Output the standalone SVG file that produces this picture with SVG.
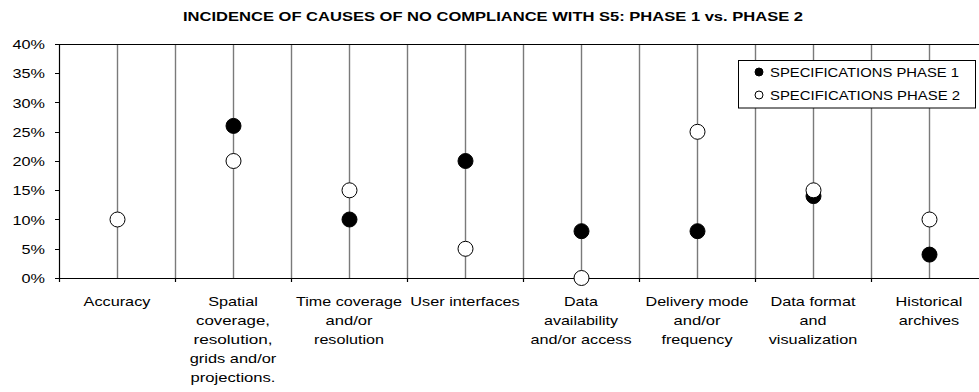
<svg xmlns="http://www.w3.org/2000/svg" width="979" height="392" viewBox="0 0 979 392">
  <style>
    text { font-family: "Liberation Sans", Arial, Helvetica, sans-serif; fill: #000; }
    .title { font-size: 13.5px; font-weight: bold; text-anchor: middle; }
    .ytick { font-size: 13.5px; text-anchor: end; }
    .cat { font-size: 13.5px; text-anchor: middle; }
    .leg { font-size: 13px; }
    .grid { stroke: #7a7a7a; stroke-width: 1.4; fill: none; }
    .axis { stroke: #000; stroke-width: 1.2; fill: none; }
    .p1 { fill: #000; stroke: #000; stroke-width: 1; }
    .p2 { fill: #fff; stroke: #000; stroke-width: 1; }
  </style>

  <rect x="0" y="0" width="979" height="392" fill="#fff"/>

  <!-- chart title -->
  <text class="title" x="493" y="21" textLength="620" lengthAdjust="spacingAndGlyphs">INCIDENCE OF CAUSES OF NO COMPLIANCE WITH S5: PHASE 1 vs. PHASE 2</text>

  <!-- plot frame, category dividers and category centre lines -->
  <g id="connectors">
    <g class="grid">
      <line x1="117.5" y1="44" x2="117.5" y2="278"/>
      <line x1="175.5" y1="44" x2="175.5" y2="278"/>
      <line x1="233.5" y1="44" x2="233.5" y2="278"/>
      <line x1="291.5" y1="44" x2="291.5" y2="278"/>
      <line x1="349.5" y1="44" x2="349.5" y2="278"/>
      <line x1="407.5" y1="44" x2="407.5" y2="278"/>
      <line x1="465.5" y1="44" x2="465.5" y2="278"/>
      <line x1="523.5" y1="44" x2="523.5" y2="278"/>
      <line x1="581.5" y1="44" x2="581.5" y2="278"/>
      <line x1="639.5" y1="44" x2="639.5" y2="278"/>
      <line x1="697.5" y1="44" x2="697.5" y2="278"/>
      <line x1="755.5" y1="44" x2="755.5" y2="278"/>
      <line x1="813.5" y1="44" x2="813.5" y2="278"/>
      <line x1="871.5" y1="44" x2="871.5" y2="278"/>
      <line x1="929.5" y1="44" x2="929.5" y2="278"/>
    </g>
    <g class="axis">
      <!-- top border -->
      <line x1="59" y1="44.5" x2="979" y2="44.5"/>
      <!-- y axis -->
      <line x1="59.5" y1="44" x2="59.5" y2="282"/>
      <!-- x axis -->
      <line x1="59" y1="278.5" x2="979" y2="278.5"/>
      <!-- y ticks -->
      <path d="M55 44.5H59M55 73.5H59M55 102.5H59M55 132.5H59M55 161.5H59M55 190.5H59M55 219.5H59M55 249.5H59M55 278.5H59"/>
      <!-- x ticks -->
      <path d="M175.5 278V282M291.5 278V282M407.5 278V282M523.5 278V282M639.5 278V282M755.5 278V282M871.5 278V282"/>
    </g>
  </g>

  <!-- y axis labels -->
  <g id="y-labels">
    <text class="ytick" x="45" y="49" textLength="32.5" lengthAdjust="spacingAndGlyphs">40%</text>
    <text class="ytick" x="45" y="78.2" textLength="32.5" lengthAdjust="spacingAndGlyphs">35%</text>
    <text class="ytick" x="45" y="107.5" textLength="32.5" lengthAdjust="spacingAndGlyphs">30%</text>
    <text class="ytick" x="45" y="136.7" textLength="32.5" lengthAdjust="spacingAndGlyphs">25%</text>
    <text class="ytick" x="45" y="166" textLength="32.5" lengthAdjust="spacingAndGlyphs">20%</text>
    <text class="ytick" x="45" y="195.2" textLength="32.5" lengthAdjust="spacingAndGlyphs">15%</text>
    <text class="ytick" x="45" y="224.5" textLength="32.5" lengthAdjust="spacingAndGlyphs">10%</text>
    <text class="ytick" x="45" y="253.7" textLength="23.5" lengthAdjust="spacingAndGlyphs">5%</text>
    <text class="ytick" x="45" y="283" textLength="23.5" lengthAdjust="spacingAndGlyphs">0%</text>
  </g>

  <!-- category labels -->
  <g id="cat-accuracy">
    <text class="cat" x="117" y="305.5" textLength="66.8" lengthAdjust="spacingAndGlyphs">Accuracy</text>
  </g>
  <g id="cat-spatial">
    <text class="cat" x="233" y="305.5" textLength="49.7" lengthAdjust="spacingAndGlyphs">Spatial</text>
    <text class="cat" x="233" y="324.5" textLength="74" lengthAdjust="spacingAndGlyphs">coverage,</text>
    <text class="cat" x="233" y="343.5" textLength="79" lengthAdjust="spacingAndGlyphs">resolution,</text>
    <text class="cat" x="233" y="362.5" textLength="86.5" lengthAdjust="spacingAndGlyphs">grids and/or</text>
    <text class="cat" x="233" y="381.5" textLength="85" lengthAdjust="spacingAndGlyphs">projections.</text>
  </g>
  <g id="cat-time">
    <text class="cat" x="349" y="305.5" textLength="106" lengthAdjust="spacingAndGlyphs">Time coverage</text>
    <text class="cat" x="349" y="324.5" textLength="47" lengthAdjust="spacingAndGlyphs">and/or</text>
    <text class="cat" x="349" y="343.5" textLength="70" lengthAdjust="spacingAndGlyphs">resolution</text>
  </g>
  <g id="cat-ui">
    <text class="cat" x="465" y="305.5" textLength="109.5" lengthAdjust="spacingAndGlyphs">User interfaces</text>
  </g>
  <g id="cat-availability">
    <text class="cat" x="581" y="305.5" textLength="34" lengthAdjust="spacingAndGlyphs">Data</text>
    <text class="cat" x="581" y="324.5" textLength="74" lengthAdjust="spacingAndGlyphs">availability</text>
    <text class="cat" x="581" y="343.5" textLength="101" lengthAdjust="spacingAndGlyphs">and/or access</text>
  </g>
  <g id="cat-delivery">
    <text class="cat" x="697" y="305.5" textLength="103" lengthAdjust="spacingAndGlyphs">Delivery mode</text>
    <text class="cat" x="697" y="324.5" textLength="47" lengthAdjust="spacingAndGlyphs">and/or</text>
    <text class="cat" x="697" y="343.5" textLength="71" lengthAdjust="spacingAndGlyphs">frequency</text>
  </g>
  <g id="cat-format">
    <text class="cat" x="813" y="305.5" textLength="85" lengthAdjust="spacingAndGlyphs">Data format</text>
    <text class="cat" x="813" y="324.5" textLength="27" lengthAdjust="spacingAndGlyphs">and</text>
    <text class="cat" x="813" y="343.5" textLength="88.5" lengthAdjust="spacingAndGlyphs">visualization</text>
  </g>
  <g id="cat-historical">
    <text class="cat" x="929" y="305.5" textLength="66.8" lengthAdjust="spacingAndGlyphs">Historical</text>
    <text class="cat" x="929" y="324.5" textLength="60.5" lengthAdjust="spacingAndGlyphs">archives</text>
  </g>

  <!-- Phase 1 markers (filled) -->
  <g id="phase1">
    <circle class="p1" cx="233.5" cy="125.9" r="7.5"/>
    <circle class="p1" cx="349.5" cy="219.5" r="7.5"/>
    <circle class="p1" cx="465.5" cy="161" r="7.5"/>
    <circle class="p1" cx="581.5" cy="231.2" r="7.5"/>
    <circle class="p1" cx="697.5" cy="231.2" r="7.5"/>
    <circle class="p1" cx="813.5" cy="196.1" r="7.5"/>
    <circle class="p1" cx="929.5" cy="254.6" r="7.5"/>
  </g>

  <!-- Phase 2 markers (hollow) -->
  <g id="phase2">
    <circle class="p2" cx="117.5" cy="219.5" r="7.5"/>
    <circle class="p2" cx="233.5" cy="161" r="7.5"/>
    <circle class="p2" cx="349.5" cy="190.3" r="7.5"/>
    <circle class="p2" cx="465.5" cy="248.8" r="7.5"/>
    <circle class="p2" cx="581.5" cy="278" r="7.5"/>
    <circle class="p2" cx="697.5" cy="131.8" r="7.5"/>
    <circle class="p2" cx="813.5" cy="190.3" r="7.5"/>
    <circle class="p2" cx="929.5" cy="219.5" r="7.5"/>
  </g>

  <!-- legend -->
  <g id="legend">
    <rect x="738.5" y="60.5" width="237" height="47.5" fill="#fff" stroke="#000" stroke-width="1"/>
    <circle class="p1" cx="759" cy="72" r="4"/>
    <circle class="p2" cx="759" cy="95" r="4"/>
    <text class="leg" x="770" y="76.5" textLength="189" lengthAdjust="spacingAndGlyphs">SPECIFICATIONS PHASE 1</text>
    <text class="leg" x="770" y="99.5" textLength="190" lengthAdjust="spacingAndGlyphs">SPECIFICATIONS PHASE 2</text>
  </g>
</svg>
